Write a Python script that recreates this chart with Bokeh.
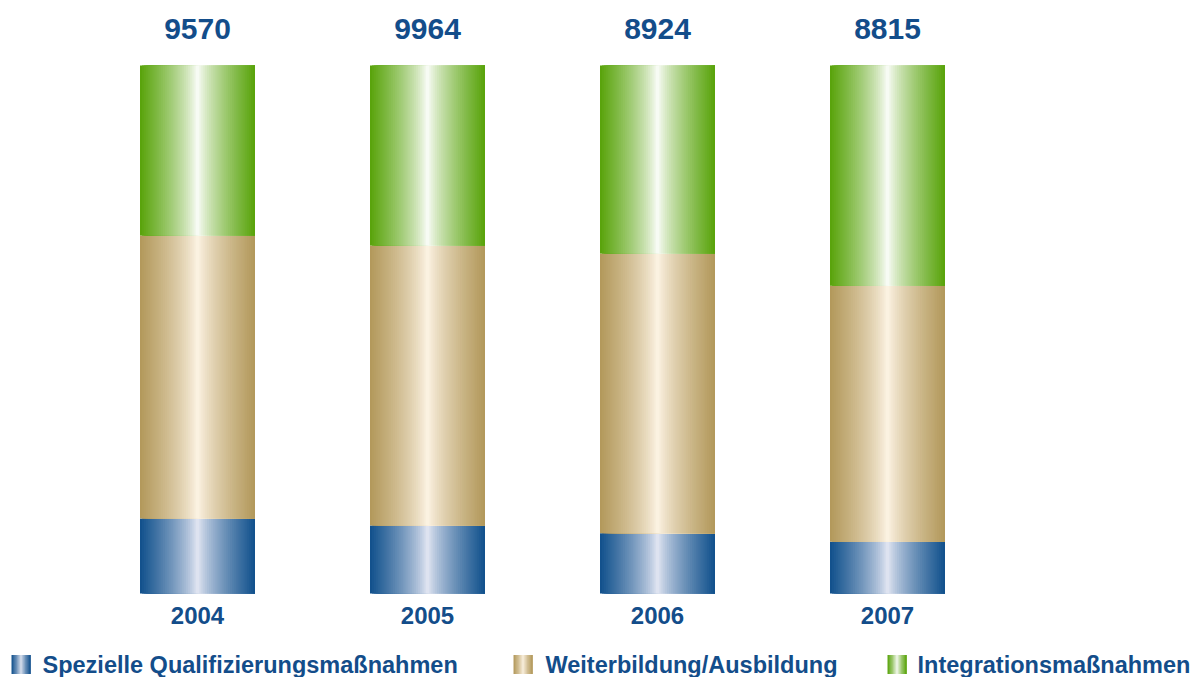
import numpy as np
from bokeh.plotting import figure
from bokeh.models import Range1d
from bokeh.core.properties import value
from bokeh.embed import file_html
from bokeh.resources import INLINE

# ---- data ----
years = ["2004", "2005", "2006", "2007"]
totals = [9570, 9964, 8924, 8815]
spezielle = [14.2, 12.9, 11.4, 9.8]          # % share (bottom)
weiterbildung = [53.6, 53.0, 53.0, 48.5]     # % share (middle)
integration = [32.2, 34.1, 35.6, 41.7]       # % share (top)
series_names = ["Spezielle Qualifizierungsmaßnahmen",
                "Weiterbildung/Ausbildung",
                "Integrationsmaßnahmen"]

# ---- style ----
W, H = 1197, 677
PX_X = 230.0          # pixels per category step
PX_Y = 5.28           # pixels per percent
X_START = -197.0 / PX_X
Y_TOP = 100 + 65.0 / PX_Y
BAR_W = 0.5
TEXT_COLOR = "#134d8a"
FONT = "Liberation Sans"

edge_cols = [(16, 80, 140), (178, 152, 90), (88, 163, 10)]
center_cols = [(232, 234, 245), (255, 246, 232), (255, 255, 255)]
N_STRIPS = 60


def grad_color(edge, center, t):
    # t in [0,1] across width; dark edges, bright centre
    d = abs(t - 0.5) * 2
    f = d ** 0.75
    c = [int(round(center[i] + (edge[i] - center[i]) * f)) for i in range(3)]
    return "#%02x%02x%02x" % tuple(c)


p = figure(width=W, height=H, output_backend="svg", toolbar_location=None,
           x_range=Range1d(X_START, X_START + W / PX_X),
           y_range=Range1d(Y_TOP - H / PX_Y, Y_TOP),
           min_border=0)
p.axis.visible = False
p.grid.visible = False
p.outline_line_color = None
p.background_fill_color = "white"

series = [spezielle, weiterbildung, integration]
xs = np.arange(len(years), dtype=float)

# gradient strips for stacked bars (each strip runs to the bar's right edge,
# later strips painted over earlier ones -> no seams)
L, R, B, T, C = [], [], [], [], []
base = np.zeros(len(years))
for s_idx, vals in enumerate(series):
    vals = np.array(vals, dtype=float)
    for k in range(N_STRIPS):
        t = (k + 0.5) / N_STRIPS
        col = grad_color(edge_cols[s_idx], center_cols[s_idx], t)
        for i in range(len(years)):
            L.append(xs[i] - BAR_W / 2 + BAR_W * k / N_STRIPS)
            R.append(xs[i] + BAR_W / 2)
            B.append(base[i])
            T.append(base[i] + vals[i])
            C.append(col)
    base = base + vals

p.quad(left=L, right=R, bottom=B, top=T, fill_color=C, line_color=None)

# totals above bars
p.text(x=xs, y=[100 + 37.0 / PX_Y] * len(years), text=[str(v) for v in totals],
       text_font=value(FONT), text_font_style="bold", text_font_size="30px",
       text_color=TEXT_COLOR, text_align="center", text_baseline="middle")

# year labels
p.text(x=xs, y=[-22.0 / PX_Y] * len(years), text=years,
       text_font=value(FONT), text_font_style="bold", text_font_size="24px",
       text_color=TEXT_COLOR, text_align="center", text_baseline="middle")

# legend (custom, gradient icons)
leg_icon_px = [11, 513, 887]
leg_text_px = [42, 545, 917]
leg_y = -(664 - 593) / PX_Y
icon_w = 19 / PX_X
icon_h = 19 / PX_Y
LL, LR, LB, LT, LC = [], [], [], [], []
for s_idx in range(3):
    x0 = X_START + leg_icon_px[s_idx] / PX_X
    n = 14
    for k in range(n):
        t = (k + 0.5) / n
        LL.append(x0 + icon_w * k / n)
        LR.append(x0 + icon_w)
        LB.append(leg_y - icon_h / 2)
        LT.append(leg_y + icon_h / 2)
        LC.append(grad_color(edge_cols[s_idx], center_cols[s_idx], t))
p.quad(left=LL, right=LR, bottom=LB, top=LT, fill_color=LC, line_color=None)

p.text(x=[X_START + v / PX_X for v in leg_text_px], y=[leg_y] * 3,
       text=series_names, text_font=value(FONT), text_font_style="bold",
       text_font_size="23.5px", text_color=TEXT_COLOR,
       text_align="left", text_baseline="middle")

open("out.html", "w").write(file_html(p, INLINE))
